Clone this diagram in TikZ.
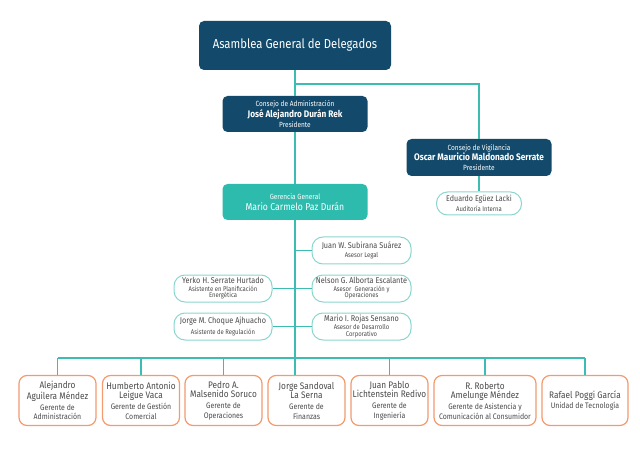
\documentclass[tikz,border=0pt]{standalone}
\usepackage{fontspec}
\setmainfont{Fira Sans}[FakeStretch=0.87]
\usepackage{tikz}

\definecolor{navy}{HTML}{134A6B}
\definecolor{gteal}{HTML}{2DBBAE}
\definecolor{lineteal}{HTML}{3DBDB2}
\definecolor{pillline}{HTML}{8AD6CE}
\definecolor{orangeline}{HTML}{F39A6E}
\definecolor{txtgray}{HTML}{4A4A4A}

% text sizes
\newcommand{\sz}[2]{{\fontsize{#1}{#1}\selectfont #2}}

\begin{document}
\begin{tikzpicture}[x=1pt,y=-1pt,
  darkbox/.style={fill=navy, rounded corners=5pt, text=white, align=center, inner sep=0pt, font=\fontsize{7.5}{9.5}\selectfont},
  pill/.style={draw=pillline, line width=1pt, fill=white, rounded corners=11pt, text=txtgray, align=center, inner sep=0pt, font=\fontsize{6.8}{6.8}\selectfont},
  gbox/.style={draw=orangeline, line width=1.2pt, fill=white, rounded corners=8pt, text=txtgray, align=center, inner sep=0pt, minimum height=50pt, font=\fontsize{8}{9.5}\selectfont},
  link/.style={draw=lineteal, line width=1.3pt}]
\useasboundingbox (0,0) rectangle (640,449);
% top of the chart
\node [darkbox, minimum width=192pt, minimum height=49pt] (asamblea) at (295,45.5) {\sz{13}{Asamblea General de Delegados}};
\node [darkbox, minimum width=145pt, minimum height=36pt] (admin) at (295,114)
  {\sz{7.5}{Consejo de Administración}\\[0.5pt]\sz{9.5}{\bfseries José Alejandro Durán Rek}\\\sz{7.5}{Presidente}};
\node [darkbox, minimum width=145pt, minimum height=37pt] (vigilancia) at (479,157.5)
  {\sz{7.5}{Consejo de Vigilancia}\\[0.5pt]\sz{9.5}{\bfseries Oscar Mauricio Maldonado Serrate}\\\sz{7.5}{Presidente}};
\node [darkbox, fill=gteal, minimum width=145pt, minimum height=36pt] (gerencia) at (295,202)
  {\sz{7.5}{Gerencia General}\\[1.5pt]\sz{10}{Mario Carmelo Paz Durán}};
\node [pill, minimum width=85pt, minimum height=23pt] (auditor) at (479,203.5)
  {\sz{8.2}{Eduardo Egüez Lacki}\\[1.5pt]\sz{6.8}{Auditoría Interna}};
% staff
\node [pill, minimum width=99pt, minimum height=27pt] (legal) at (361.5,250.5)
  {\sz{8.4}{Juan W. Subirana Suárez}\\[2pt]\sz{6.8}{Asesor Legal}};
\node [pill, minimum width=98pt, minimum height=27pt] (planif) at (223,288.5)
  {\sz{8.4}{Yerko H. Serrate Hurtado}\\[0.5pt]\sz{6.8}{Asistente en Planificación}\\\sz{6.8}{Energética}};
\node [pill, minimum width=99pt, minimum height=27pt] (generacion) at (361.5,288.5)
  {\sz{8.4}{Nelson G. Alborta Escalante}\\[0.5pt]\sz{6.8}{Asesor\ \ Generación y}\\\sz{6.8}{Operaciones}};
\node [pill, minimum width=98pt, minimum height=27pt] (regulacion) at (223,326.5)
  {\sz{8.4}{Jorge M. Choque Ajhuacho}\\[2pt]\sz{6.8}{Asistente de Regulación}};
\node [pill, minimum width=99pt, minimum height=27pt] (desarrollo) at (361.5,326.5)
  {\sz{8.4}{Mario I. Rojas Sensano}\\[0.5pt]\sz{6.8}{Asesor de Desarrollo}\\\sz{6.8}{Corporativo}};
% gerentes
\node [gbox, minimum width=77pt] (g1) at (57.5,400.5)
  {\sz{9.5}{Alejandro}\\\sz{9.5}{Aguilera Méndez}\\[1.5pt]\sz{8}{Gerente de}\\\sz{8}{Administración}};
\node [gbox, minimum width=77pt] (g2) at (141,400.5)
  {\sz{9.5}{Humberto Antonio}\\\sz{9.5}{Leigue Vaca}\\[1.5pt]\sz{8}{Gerente de Gestión}\\\sz{8}{Comercial}};
\node [gbox, minimum width=77pt] (g3) at (223.5,400.5)
  {\sz{9.5}{Pedro A.}\\\sz{9.5}{Malsenido Soruco}\\[1.5pt]\sz{8}{Gerente de}\\\sz{8}{Operaciones}};
\node [gbox, minimum width=77pt] (g4) at (306.5,400.5)
  {\sz{9.5}{Jorge Sandoval}\\\sz{9.5}{La Serna}\\[1.5pt]\sz{8}{Gerente de}\\\sz{8}{Finanzas}};
\node [gbox, minimum width=77pt] (g5) at (389.5,400.5)
  {\sz{9.5}{Juan Pablo}\\\sz{9.5}{Lichtenstein Redivo}\\[1.5pt]\sz{8}{Gerente de}\\\sz{8}{Ingeniería}};
\node [gbox, minimum width=102pt] (g6) at (485,400.5)
  {\sz{9.5}{R. Roberto}\\\sz{9.5}{Amelunge Méndez}\\[1.5pt]\sz{8}{Gerente de Asistencia y}\\\sz{8}{Comunicación al Consumidor}};
\node [gbox, minimum width=86pt] (g7) at (585,400.5)
  {\sz{9.5}{Rafael Poggi García}\\\sz{8}{Unidad de Tecnología}};
% connectors
\coordinate (fork) at (295,84);
\coordinate (bar) at (0,358);
\draw [link] (asamblea) -- (admin);
\draw [link] (admin) -- (gerencia);
\draw [link] (fork) -| (vigilancia);
\draw [link] (vigilancia) -- (auditor);
\draw [link] (gerencia) -- (gerencia.south |- g4.north);
\draw [link] (legal) -- (legal.west -| gerencia.south);
\draw [link] (planif) -- (generacion);
\draw [link] (regulacion) -- (desarrollo);
\draw [link] (g1.north |- bar) -- (g7.north |- bar);
\foreach \g in {g1,g2,g3,g5,g6,g7}
  \draw [link] (\g.north |- bar) -- (\g.north);
\end{tikzpicture}
\end{document}
